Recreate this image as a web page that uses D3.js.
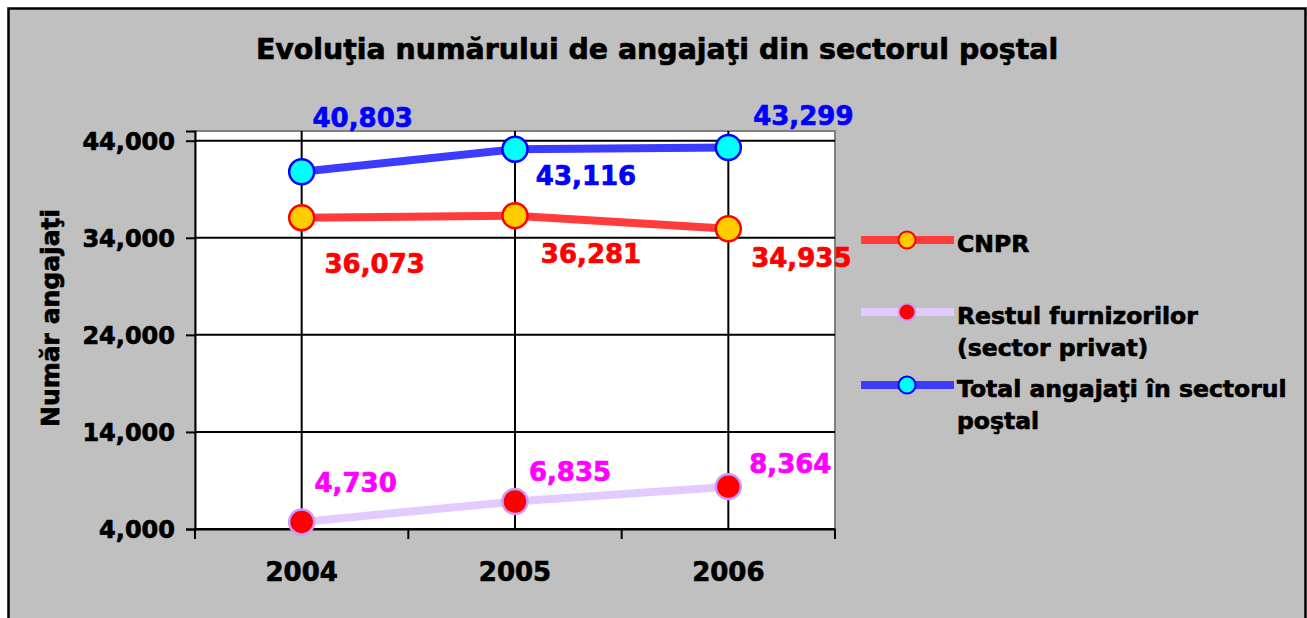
<html><head><meta charset="utf-8">
    <style>
        body {
            margin: 0;
            background: #ffffff;
            font-family: "DejaVu Sans", Verdana, sans-serif;
        }
        svg text {
            font-weight: bold;
            stroke: currentColor;
            stroke-width: 0.7px;
        }
    </style>
</head>
<body>
    <svg id="Chart"></svg>
</body>
<script type="text/javascript" src="https://d3js.org/d3.v7.min.js"></script>
<script type="text/javascript">
    // data
    let years = ["2004", "2005", "2006"];
    let cnpr = [36073, 36281, 34935];
    let restul = [4730, 6835, 8364];
    let total = [40803, 43116, 43299];
    let yTicks = [4000, 14000, 24000, 34000, 44000];

    let seriesNames = ["CNPR", "Restul furnizorilor\n(sector privat)", "Total angajaţi în sectorul\npoştal"];

    // label offsets from each point (placement only)
    let labelOffsets = {
        cnpr:   [[73, 55], [76, 47], [73, 38]],
        restul: [[54, -30], [55, -20], [62, -14]],
        total:  [[61, -45], [71, 36], [75, -23]]
    };

    function getConfig(){
        let width = 1307;
        let height = 618;
        let plot = {left: 195, right: 835, top: 131, bottom: 529};
        let container = d3.select("#Chart")
        container.attr("width", width)
                 .attr("height", height)
        return {width, height, plot, container};
    }

    function getScales(config){
        let {plot} = config;
        let xScale = d3.scaleBand()
                       .domain(years)
                       .range([plot.left, plot.right])
        let yScale = d3.scaleLinear()
                       .domain([4000, 45000])
                       .range([plot.bottom, plot.top])
        return {xScale, yScale};
    }

    function drawFrame(config){
        let {container, width, height, plot} = config;
        container.append("rect")
                 .attr("x", 8.5).attr("y", 8.5)
                 .attr("width", width - 10).attr("height", height)
                 .attr("fill", "#c0c0c0")
                 .attr("stroke", "#000")
                 .attr("stroke-width", 2.5)

        container.append("rect")
                 .attr("x", plot.left).attr("y", plot.top)
                 .attr("width", plot.right - plot.left)
                 .attr("height", plot.bottom - plot.top)
                 .attr("fill", "#ffffff")
                 .attr("stroke", "#808080")
                 .attr("stroke-width", 2)

        container.append("text")
                 .attr("x", 657).attr("y", 59)
                 .attr("text-anchor", "middle")
                 .attr("fill", "#000").style("color", "#000")
                 .style("font-size", "28.4px")
                 .text("Evoluţia numărului de angajaţi din sectorul poştal")
    }

    function drawAxes(config, scales){
        let {container, plot} = config;
        let {xScale, yScale} = scales;

        // horizontal gridlines
        container.append("g")
                 .selectAll("line")
                 .data(yTicks)
                 .enter()
                 .append("line")
                 .attr("x1", plot.left).attr("x2", plot.right)
                 .attr("y1", d => yScale(d)).attr("y2", d => yScale(d))
                 .attr("stroke", "#000")
                 .attr("stroke-width", 2)

        // vertical gridlines at categories
        container.append("g")
                 .selectAll("line")
                 .data(years)
                 .enter()
                 .append("line")
                 .attr("x1", d => xScale(d) + xScale.bandwidth()/2)
                 .attr("x2", d => xScale(d) + xScale.bandwidth()/2)
                 .attr("y1", plot.top).attr("y2", plot.bottom)
                 .attr("stroke", "#000")
                 .attr("stroke-width", 2)

        let yAxis = d3.axisLeft(yScale)
                      .tickValues(yTicks)
                      .tickSize(9)
                      .tickPadding(11)
                      .tickFormat(d3.format(","))
        let gy = container.append("g")
                 .attr("transform", `translate(${plot.left},0)`)
                 .call(yAxis)
        gy.select(".domain").attr("stroke", "#000").attr("stroke-width", 2)
        gy.selectAll(".tick line").attr("stroke", "#000").attr("stroke-width", 2)
        gy.selectAll("text")
          .attr("fill", "#000")
          .style("color", "#000")
          .attr("dy", "0.36em")
          .style("font-size", "24px")
          .style("font-family", "DejaVu Sans")

        let xAxis = d3.axisBottom(xScale)
                      .tickSize(0)
                      .tickPadding(34)
        let gx = container.append("g")
                 .attr("transform", `translate(0,${plot.bottom})`)
                 .call(xAxis)
        gx.select(".domain").attr("stroke", "#000").attr("stroke-width", 2)
        gx.selectAll("text")
          .attr("fill", "#000")
          .style("color", "#000")
          .style("font-size", "26px")
          .style("font-family", "DejaVu Sans")

        // ticks between categories
        gx.append("g")
          .selectAll("line")
          .data(xScale.domain().map(d => xScale(d)).concat([plot.right]))
          .enter()
          .append("line")
          .attr("x1", d => d).attr("x2", d => d)
          .attr("y1", 0).attr("y2", 10)
          .attr("stroke", "#000")
          .attr("stroke-width", 2)

        container.append("text")
                 .attr("transform", "translate(59,318) rotate(-90)")
                 .attr("text-anchor", "middle")
                 .attr("fill", "#000").style("color", "#000")
                 .style("font-size", "25px")
                 .text("Număr angajaţi")
    }

    function drawSeries(config, scales, values, style, offsets){
        let {container} = config;
        let {xScale, yScale} = scales;
        let cx = (d, i) => xScale(years[i]) + xScale.bandwidth()/2;
        let line = d3.line()
                     .x((d, i) => cx(d, i))
                     .y(d => yScale(d))

        container.append("path")
                 .datum(values)
                 .attr("d", line)
                 .attr("fill", "none")
                 .attr("stroke", style.line)
                 .attr("stroke-width", 8)

        container.append("g")
                 .selectAll("circle")
                 .data(values)
                 .enter()
                 .append("circle")
                 .attr("cx", cx)
                 .attr("cy", d => yScale(d))
                 .attr("r", 12.5)
                 .attr("fill", style.fill)
                 .attr("stroke", style.stroke)
                 .attr("stroke-width", 2.5)

        container.append("g")
                 .selectAll("text")
                 .data(values)
                 .enter()
                 .append("text")
                 .attr("x", (d, i) => cx(d, i) + offsets[i][0])
                 .attr("y", (d, i) => yScale(d) + offsets[i][1])
                 .attr("text-anchor", "middle")
                 .attr("fill", style.label)
                 .style("color", style.label)
                 .style("font-size", "26px")
                 .text(d => d3.format(",")(d))
    }

    function drawLegend(config, styles){
        let {container} = config;
        let rows = [240, 312, 385];
        let legend = container.append("g")
        let items = legend.selectAll("g")
                          .data(styles)
                          .enter()
                          .append("g")
                          .attr("transform", (d, i) => `translate(0,${rows[i]})`)

        items.append("line")
             .attr("x1", 861).attr("x2", 954)
             .attr("y1", 0).attr("y2", 0)
             .attr("stroke", d => d.line)
             .attr("stroke-width", 8)
        items.append("circle")
             .attr("cx", 907).attr("cy", 0)
             .attr("r", 8.5)
             .attr("fill", d => d.fill)
             .attr("stroke", d => d.stroke)
             .attr("stroke-width", 2)

        items.append("text")
             .attr("x", 957)
             .attr("y", 12)
             .attr("fill", "#000").style("color", "#000")
             .style("font-size", "23.5px")
             .selectAll("tspan")
             .data((d, i) => seriesNames[i].split("\n"))
             .enter()
             .append("tspan")
             .attr("x", 957)
             .attr("dy", (d, i) => i == 0 ? 0 : 32)
             .text(d => d)
    }

    function showChart(){
        let config = getConfig();
        let scales = getScales(config);
        drawFrame(config)
        drawAxes(config, scales)

        let styles = [
            {line: "#ff3c3c", fill: "#ffcc00", stroke: "#ff0000", label: "#ff0000"},
            {line: "#e2ccff", fill: "#ff0000", stroke: "#cc99ff", label: "#ff00ff"},
            {line: "#3c3cff", fill: "#00ffff", stroke: "#0000ff", label: "#0000ff"}
        ];

        drawSeries(config, scales, restul, styles[1], labelOffsets.restul)
        drawSeries(config, scales, cnpr, styles[0], labelOffsets.cnpr)
        drawSeries(config, scales, total, styles[2], labelOffsets.total)
        drawLegend(config, styles)
    }

    showChart()
</script>
</html>
